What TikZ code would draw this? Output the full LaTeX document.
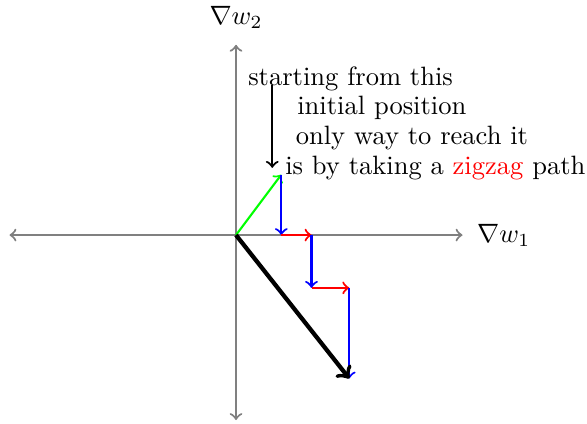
\documentclass[tikz,border=0pt]{standalone}
\usepackage{amsmath}
\usepackage{amssymb}
\usepackage{xcolor}
\usetikzlibrary{arrows,positioning}

\begin{document}
\begin{tikzpicture}[
  axis/.style={<->, thick, gray},
  vstep/.style={->, thick, blue},
  hstep/.style={->, thick, red},
  note/.style={anchor=west, inner sep=1pt}
]
\useasboundingbox (-3.126,-2.49) rectangle (4.649,3.113);
% axes
\coordinate (o) at (0,0);
\coordinate (xl) at (-3,0);
\coordinate (xr) at (3,0);
\coordinate (yb) at (0,-2.45);
\coordinate (yt) at (0,2.52);
\draw[axis] (xl) -- (xr);
\draw[axis] (yb) -- (yt);
\node[right=2pt] (w1) at (xr) {$\nabla w_1$};
\node[above=2.5pt] (w2) at (yt) {$\nabla w_2$};
% zigzag path
\coordinate (p1) at (0.6,0.8);
\coordinate (p2) at (0.6,0);
\coordinate (p3) at (1,0);
\coordinate (p4) at (1,-0.7);
\coordinate (p5) at (1.5,-0.7);
\coordinate (p6) at (1.5,-1.9);
\draw[->, thick, green] (o) -- (p1);
\draw[vstep] (p1) -- (p2);
\draw[hstep] (p2) -- (p3);
\draw[vstep] (p3) -- (p4);
\draw[hstep] (p4) -- (p5);
\draw[vstep] (p5) -- (p6);
\draw[->, ultra thick] (o) -- (p6);
% notes
\node[note] (n1) at (0.12,2.07) {starting from this};
\node[note] (n2) at (0.77,1.68) {initial position};
\node[note] (n3) at (0.75,1.28) {only way to reach it};
\node[note] (n4) at (0.61,0.89) {is by taking a \textcolor{red}{zigzag} path};
\coordinate (a1) at (0.48,1.99);
\draw[->, thick] (a1) -- (a1 |- n4.west);
\end{tikzpicture}
\end{document}
